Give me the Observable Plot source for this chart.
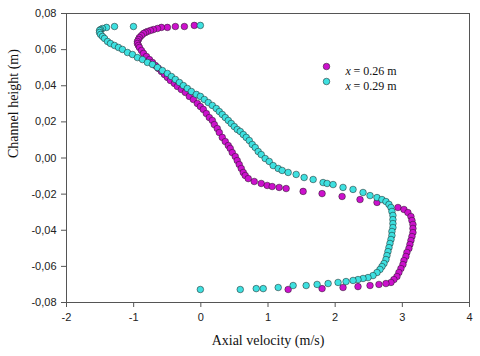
<!DOCTYPE html>
<html><head><meta charset="utf-8">
<script src="https://cdn.jsdelivr.net/npm/d3@7"></script>
<script src="https://cdn.jsdelivr.net/npm/@observablehq/plot@0.6"></script>
<style>body{margin:0;background:#fff}</style>
</head><body><div id="chart"></div>
<script>
const seriesNames = ["0.26", "0.29"];
const seriesColors = ["#cc11cc", "#3ee0e0"];
const xTicks = [-2, -1, 0, 1, 2, 3, 4];
const yTicks = [-0.08, -0.06, -0.04, -0.02, 0, 0.02, 0.04, 0.06, 0.08];
const xTitle = "Axial velocity (m/s)";
const yTitle = "Channel height (m)";

// x = 0.26 m
const vel26 = [-0.097,-0.245,-0.379,-0.498,-0.587,-0.646,-0.706,-0.750,-0.795,-0.825,-0.854,-0.884,-0.914,-0.929,-0.944,-0.944,-0.929,-0.914,-0.884,-0.854,-0.810,-0.765,-0.720,-0.676,-0.632,-0.587,-0.542,-0.498,-0.453,-0.394,-0.349,-0.290,-0.230,-0.171,-0.111,-0.052,-0.007,0.037,0.082,0.126,0.171,0.201,0.245,0.275,0.319,0.364,0.409,0.438,0.468,0.513,0.542,0.572,0.602,0.632,0.661,0.706,0.795,0.899,0.988,1.062,1.166,1.270,1.523,1.805,2.103,2.370,2.623,2.935,3.024,3.083,3.128,3.143,3.158,3.158,3.158,3.143,3.128,3.113,3.098,3.068,3.053,3.024,3.009,2.979,2.949,2.920,2.875,2.831,2.756,2.652,2.519,2.340,2.117,1.805,1.300];
const hgt26 = [0.0734,0.0728,0.0728,0.0723,0.0723,0.0717,0.0711,0.0706,0.0700,0.0695,0.0689,0.0678,0.0667,0.0656,0.0645,0.0634,0.0623,0.0612,0.0595,0.0579,0.0562,0.0545,0.0529,0.0512,0.0496,0.0479,0.0462,0.0446,0.0429,0.0413,0.0396,0.0379,0.0363,0.0341,0.0324,0.0302,0.0285,0.0269,0.0246,0.0224,0.0208,0.0185,0.0163,0.0141,0.0114,0.0091,0.0069,0.0053,0.0030,0.0008,-0.0014,-0.0036,-0.0058,-0.0080,-0.0097,-0.0114,-0.0130,-0.0141,-0.0152,-0.0158,-0.0163,-0.0169,-0.0185,-0.0197,-0.0213,-0.0230,-0.0246,-0.0274,-0.0285,-0.0302,-0.0324,-0.0346,-0.0368,-0.0390,-0.0413,-0.0435,-0.0457,-0.0479,-0.0501,-0.0523,-0.0545,-0.0568,-0.0590,-0.0612,-0.0634,-0.0656,-0.0673,-0.0689,-0.0695,-0.0700,-0.0706,-0.0712,-0.0717,-0.0723,-0.0728];

// x = 0.29 m
const vel29 = [-0.007,-1.003,-1.285,-1.404,-1.464,-1.493,-1.508,-1.508,-1.493,-1.464,-1.434,-1.389,-1.345,-1.285,-1.226,-1.167,-1.092,-1.018,-0.944,-0.869,-0.795,-0.720,-0.646,-0.572,-0.498,-0.438,-0.379,-0.319,-0.260,-0.201,-0.141,-0.067,-0.007,0.052,0.111,0.171,0.230,0.275,0.319,0.364,0.409,0.453,0.498,0.542,0.587,0.632,0.676,0.721,0.765,0.810,0.854,0.899,0.958,1.018,1.077,1.152,1.211,1.300,1.419,1.538,1.672,1.820,1.880,1.969,2.117,2.266,2.415,2.519,2.623,2.697,2.756,2.801,2.831,2.845,2.860,2.860,2.860,2.860,2.845,2.845,2.831,2.816,2.801,2.786,2.771,2.756,2.727,2.697,2.667,2.623,2.563,2.489,2.415,2.340,2.266,2.162,2.043,1.895,1.731,1.568,1.374,1.152,0.929,0.825,0.587,-0.007];
const hgt29 = [0.0734,0.0728,0.0728,0.0723,0.0717,0.0711,0.0706,0.0695,0.0684,0.0673,0.0662,0.0645,0.0634,0.0623,0.0612,0.0601,0.0584,0.0573,0.0556,0.0545,0.0529,0.0518,0.0501,0.0484,0.0468,0.0451,0.0435,0.0418,0.0401,0.0385,0.0368,0.0352,0.0341,0.0324,0.0307,0.0291,0.0274,0.0257,0.0241,0.0224,0.0208,0.0191,0.0174,0.0158,0.0147,0.0130,0.0114,0.0097,0.0075,0.0058,0.0036,0.0019,-0.0003,-0.0019,-0.0042,-0.0058,-0.0069,-0.0080,-0.0091,-0.0108,-0.0119,-0.0136,-0.0141,-0.0147,-0.0163,-0.0174,-0.0191,-0.0208,-0.0219,-0.0230,-0.0241,-0.0257,-0.0274,-0.0296,-0.0318,-0.0341,-0.0363,-0.0385,-0.0407,-0.0429,-0.0451,-0.0473,-0.0496,-0.0518,-0.0540,-0.0562,-0.0584,-0.0601,-0.0617,-0.0634,-0.0651,-0.0662,-0.0667,-0.0673,-0.0678,-0.0684,-0.0689,-0.0695,-0.0700,-0.0706,-0.0706,-0.0717,-0.0723,-0.0723,-0.0728,-0.0728];

const data = [
  ...vel26.map((v, i) => ({v, h: hgt26[i], s: seriesNames[0]})),
  ...vel29.map((v, i) => ({v, h: hgt29[i], s: seriesNames[1]}))
];

const serif = "'Liberation Serif', 'Times New Roman', serif";
const axisColor = "#555";

const chart = Plot.plot({
  width: 480, height: 356,
  marginLeft: 66, marginRight: 11, marginTop: 13, marginBottom: 54,
  style: {fontFamily: "'Liberation Sans', Arial, sans-serif", fontSize: "11px", background: "#fff", color: "#222"},
  x: {domain: [-2, 4]},
  y: {domain: [-0.08, 0.08]},
  color: {domain: seriesNames, range: seriesColors},
  marks: [
    Plot.frame({stroke: axisColor}),
    Plot.axisX({ticks: xTicks, tickSize: 5, tickPadding: 6, tickFormat: d => String(d), label: null, stroke: axisColor}),
    Plot.axisY({ticks: yTicks, tickSize: 5, tickPadding: 5, tickFormat: d => d.toFixed(2).replace(".", ","), label: null, stroke: axisColor}),
    Plot.dot(data, {x: "v", y: "h", fill: "s", r: 3.3, stroke: "#1a1a1a", strokeWidth: 0.5}),
    Plot.text([xTitle], {frameAnchor: "bottom", dy: 42, fontFamily: serif, fontSize: 14, fill: "#111"}),
    Plot.text([yTitle], {frameAnchor: "left", dx: -53, rotate: -90, fontFamily: serif, fontSize: 14, fill: "#111"}),
    // legend
    Plot.dot([seriesNames[0]], {frameAnchor: "top-left", dx: 260, dy: 53, r: 3.3, fill: d => d, stroke: "#1a1a1a", strokeWidth: 0.5}),
    Plot.dot([seriesNames[1]], {frameAnchor: "top-left", dx: 260, dy: 68, r: 3.3, fill: d => d, stroke: "#1a1a1a", strokeWidth: 0.5}),
    Plot.text(["x"], {frameAnchor: "top-left", dx: 279, dy: 53, textAnchor: "start", fontFamily: serif, fontStyle: "italic", fontSize: 12, fill: "#111"}),
    Plot.text(["x"], {frameAnchor: "top-left", dx: 279, dy: 68, textAnchor: "start", fontFamily: serif, fontStyle: "italic", fontSize: 12, fill: "#111"}),
    Plot.text(["= " + seriesNames[0] + " m"], {frameAnchor: "top-left", dx: 287, dy: 53, textAnchor: "start", fontFamily: serif, fontSize: 12, fill: "#111"}),
    Plot.text(["= " + seriesNames[1] + " m"], {frameAnchor: "top-left", dx: 287, dy: 68, textAnchor: "start", fontFamily: serif, fontSize: 12, fill: "#111"})
  ]
});
document.getElementById("chart").appendChild(chart);
</script>
</body></html>
